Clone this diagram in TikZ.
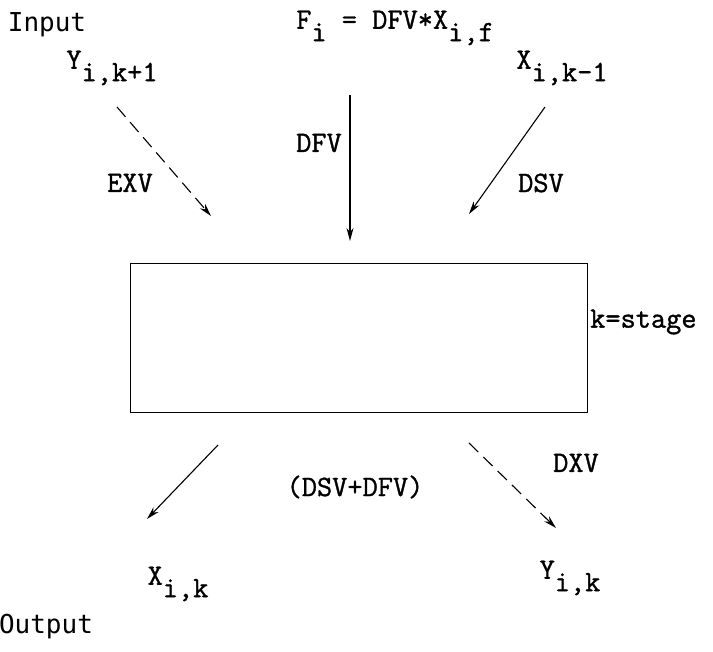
\documentclass[tikz,border=0pt]{standalone}
\usepackage{fontspec}
\setmonofont[FakeBold=1.2]{Latin Modern Mono}
\newfontfamily\gothic{DejaVu Sans Mono}
\usetikzlibrary{arrows.meta}
% lowered subscript, typed at full size
\newcommand\lowsub[1]{\raisebox{-0.42em}{#1}}
\begin{document}
\begin{tikzpicture}[x=1pt,y=-1pt,
  lbl/.style={font=\ttfamily\fontsize{29.5}{32}\selectfont, inner sep=0pt},
  head/.style={font=\gothic\fontsize{26}{29}\selectfont, inner sep=0pt},
  flow/.style={line width=1.1pt, -{Stealth[length=13pt,width=7pt]}},
  dflow/.style={flow, dash pattern=on 13pt off 7pt},
  stagebox/.style={draw, line width=1.4pt}]
\useasboundingbox (0,0) rectangle (713,652);

% headings
\node[head] (in) at (47,25) {Input};
\node[head] (out) at (46,627) {Output};

% feed
\node[lbl] (feed) at (395,28) {F\lowsub{i} = DFV*X\lowsub{i,f}};

% stage box
\node[stagebox, minimum width=457pt, minimum height=149pt, anchor=north west] (stage) at (130,263) {};
\node[lbl, anchor=west] (kst) at (590,322) {k=stage};

% incoming streams
\node[lbl] (yin) at (112,68) {Y\lowsub{i,k+1}};
\node[lbl] (xin) at (562,68) {X\lowsub{i,k-1}};
\coordinate (fs) at (350,95);
\coordinate (fe) at (350,241);
\coordinate (ys) at (117,107);
\coordinate (ye) at (211,216);
\coordinate (xs) at (545,107);
\coordinate (xe) at (469,214);
\draw[flow] (fs) -- (fe);
\draw[dflow] (ys) -- (ye);
\draw[flow] (xs) -- (xe);
\node[lbl] (dfv) at (319,143) {DFV};
\node[lbl] (exv) at (130,183) {EXV};
\node[lbl] (dsv) at (541,183) {DSV};

% outgoing streams
\coordinate (ls) at (218,445);
\coordinate (le) at (147,519);
\coordinate (rs) at (469,443);
\coordinate (re) at (556,528);
\draw[flow] (ls) -- (le);
\draw[dflow] (rs) -- (re);
\node[lbl] (liq) at (355,487) {(DSV+DFV)};
\node[lbl] (dxv) at (576,463) {DXV};
\node[lbl] (xout) at (178,584) {X\lowsub{i,k}};
\node[lbl] (yout) at (570,578) {Y\lowsub{i,k}};
\end{tikzpicture}
\end{document}
